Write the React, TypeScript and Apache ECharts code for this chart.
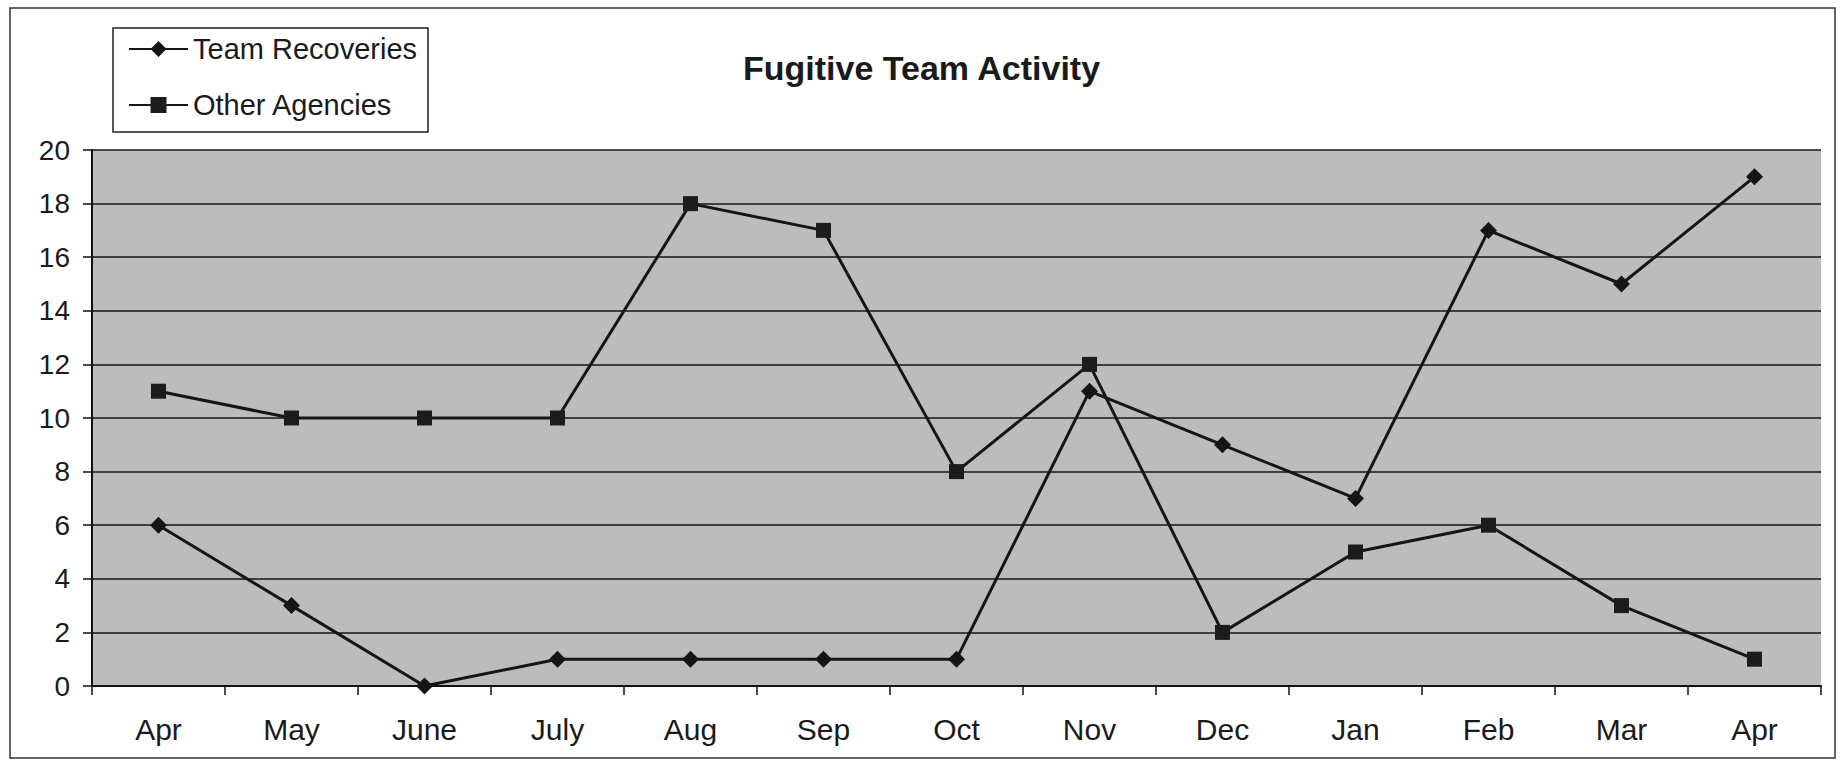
import React, { useEffect, useRef } from "react";
import * as echarts from "echarts";

const months = ["Apr", "May", "June", "July", "Aug", "Sep", "Oct", "Nov", "Dec", "Jan", "Feb", "Mar", "Apr"];
const teamRecoveries = [6, 3, 0, 1, 1, 1, 1, 11, 9, 7, 17, 15, 19];
const otherAgencies = [11, 10, 10, 10, 18, 17, 8, 12, 2, 5, 6, 3, 1];
const yMin = 0;
const yMax = 20;
const yStep = 2;

const FONT = "'Liberation Sans', Arial, Helvetica, sans-serif";

export default function App() {
  const ref = useRef<HTMLDivElement>(null);

  useEffect(() => {
    if (!ref.current) return;
    const chart = echarts.init(ref.current, null, { renderer: "svg" });
    chart.setOption({
      animation: false,
      backgroundColor: "#ffffff",
      textStyle: { fontFamily: FONT },
      title: {
        text: "Fugitive Team Activity",
        left: 743,
        top: 51,
        padding: 0,
        textStyle: { fontFamily: FONT, fontSize: 34, fontWeight: "bold", color: "#1a1a1a" },
      },
      legend: {
        orient: "vertical",
        left: 113,
        top: 28,
        padding: [6, 11, 12, 15],
        itemGap: 26,
        itemWidth: 59,
        itemHeight: 20,
        borderColor: "#222",
        borderWidth: 1.5,
        backgroundColor: "#ffffff",
        textStyle: { fontFamily: FONT, fontSize: 29, color: "#1a1a1a", lineHeight: 30 },
        data: ["Team Recoveries", "Other Agencies"],
      },
      graphic: [
        {
          type: "rect",
          shape: { x: 10, y: 8, width: 1825, height: 750 },
          style: { fill: "none", stroke: "#333", lineWidth: 1.5 },
          silent: true,
          z: -1,
        },
      ],
      grid: {
        left: 92,
        right: 22,
        top: 150,
        bottom: 78,
        show: true,
        backgroundColor: "#bcbcbc",
        borderWidth: 0,
        containLabel: false,
      },
      xAxis: {
        type: "category",
        data: months,
        boundaryGap: true,
        axisLine: { show: true, lineStyle: { color: "#111", width: 2 } },
        axisTick: { show: true, length: 9, lineStyle: { color: "#111", width: 1.5 } },
        axisLabel: { margin: 28, fontSize: 30, fontFamily: FONT, color: "#1a1a1a", interval: 0 },
        splitLine: { show: false },
      },
      yAxis: {
        type: "value",
        min: yMin,
        max: yMax,
        interval: yStep,
        axisLine: { show: true, lineStyle: { color: "#111", width: 2 } },
        axisTick: { show: true, length: 9, lineStyle: { color: "#111", width: 1.5 } },
        axisLabel: { margin: 22, fontSize: 28, fontFamily: FONT, color: "#1a1a1a" },
        splitLine: { show: true, lineStyle: { color: "#161616", width: 1.6 } },
      },
      series: [
        {
          name: "Team Recoveries",
          type: "line",
          data: teamRecoveries,
          symbol: "diamond",
          symbolSize: 17,
          color: "#151515",
          lineStyle: { color: "#151515", width: 3 },
          itemStyle: { color: "#151515" },
          z: 3,
        },
        {
          name: "Other Agencies",
          type: "line",
          data: otherAgencies,
          symbol: "rect",
          symbolSize: 15,
          color: "#151515",
          lineStyle: { color: "#151515", width: 3 },
          itemStyle: { color: "#1c1c1c" },
          z: 3,
        },
      ],
    });
    return () => chart.dispose();
  }, []);

  return (
    <div
      ref={ref}
      style={{ position: "fixed", left: 0, top: 0, width: 1843, height: 764, background: "#fff" }}
    />
  );
}
